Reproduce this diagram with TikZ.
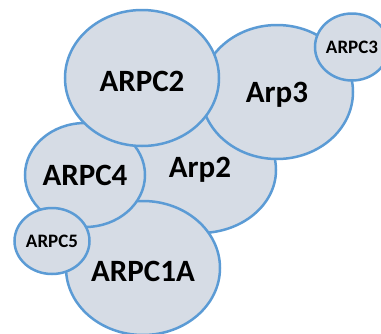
\documentclass[tikz,border=0pt]{standalone}
\usepackage{fontspec}
\setmainfont{Carlito}
\usetikzlibrary{shapes.geometric}
\definecolor{subfill}{HTML}{D6DCE5}
\definecolor{subline}{HTML}{5B9BD5}

\begin{document}
\begin{tikzpicture}[x=1pt, y=-1pt,
    sub/.style={ellipse, draw=subline, fill=subfill, line width=2.5pt, inner sep=0pt, font=\fontsize{31}{31}\selectfont\bfseries},
    small/.style={sub, font=\fontsize{19}{19}\selectfont\bfseries},
    low/.style={text height=27pt, text depth=0pt}
]
    \useasboundingbox (0,0) rectangle (381,333);
    \clip (0,0) rectangle (381,333);
    \node[sub, minimum width=152pt, minimum height=126pt, text height=19pt, text depth=5pt] (arptwo) at (200,170) {Arp2};
    \node[sub, minimum width=152pt, minimum height=134pt, text height=21pt, text depth=0pt] (arpthree) at (277,92) {Arp3};
    \node[sub, low, minimum width=154pt, minimum height=134pt] (arpcone) at (143,268) {ARPC1A};
    \node[sub, minimum width=116pt, minimum height=104pt] (arpcfour) at (85,175) {ARPC4};
    \node[sub, low, minimum width=154pt, minimum height=136pt] (arpctwo) at (142,78) {ARPC2};
    \node[small, minimum width=74pt, minimum height=67pt] (arpcthree) at (352,47) {ARPC3};
    \node[small, minimum width=75pt, minimum height=66pt] (arpcfive) at (52,241) {ARPC5};
\end{tikzpicture}
\end{document}
